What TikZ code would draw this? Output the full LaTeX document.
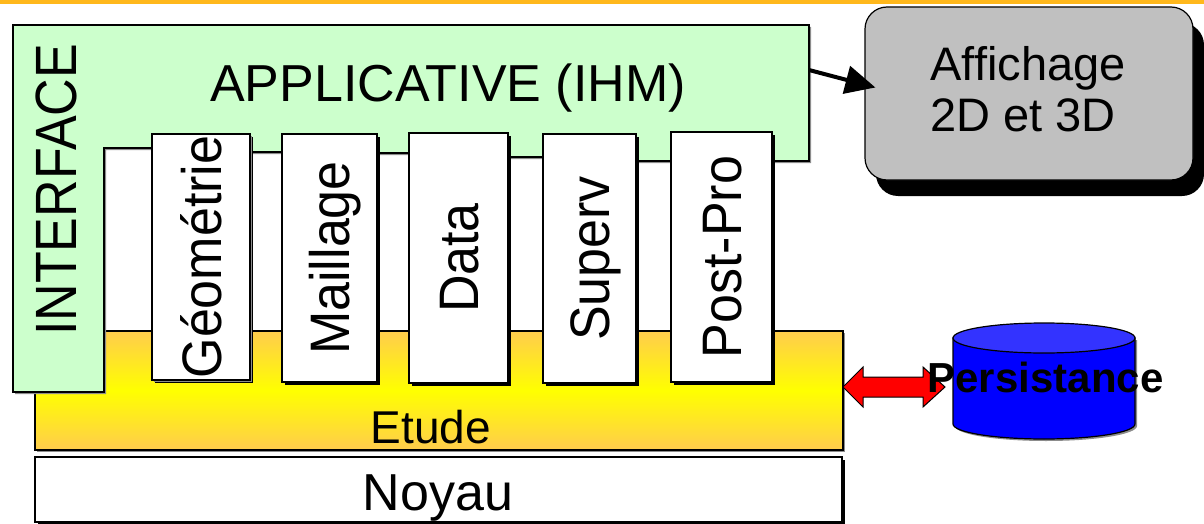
\documentclass[tikz,border=0pt]{standalone}
\usepackage{fontspec}
\setmainfont{Liberation Sans}
\usepackage{graphicx}
\usetikzlibrary{arrows.meta,shadows,calc}

\definecolor{barorange}{RGB}{255,184,28}
\definecolor{ihmgreen}{RGB}{204,255,204}
\definecolor{etudeorange}{RGB}{255,204,77}
\definecolor{etudeyellow}{RGB}{255,255,0}
\definecolor{affgray}{RGB}{192,192,192}
\definecolor{cylblue}{RGB}{0,0,255}
\definecolor{cyltop}{RGB}{51,51,255}

\tikzset{
  bigtext/.style={font=\fontsize{52}{60}\selectfont, inner sep=0pt},
  modbox/.style={draw=black, line width=1.4pt, fill=white, inner sep=0pt,
    drop shadow={shadow xshift=3pt, shadow yshift=-3pt, fill=black, opacity=1}},
  modtext/.style={rotate=90, inner sep=0pt, text height=40pt, text depth=0pt,
    font=\fontsize{52}{60}\selectfont},
  layer/.style={draw=black, line width=1.2pt, inner sep=0pt},
}

\newcommand{\tallword}[2]{\scalebox{1}[#1]{#2}}

\begin{document}
\begin{tikzpicture}[x=1pt,y=-1pt]
\useasboundingbox (0,0) rectangle (1204,524);

% top rule
\fill[barorange] (0,0) rectangle (1204,4.5);

% study layer
\node[layer, minimum width=808pt, minimum height=119pt,
      top color=etudeorange, bottom color=etudeorange, middle color=etudeyellow,
      drop shadow={shadow xshift=2pt, shadow yshift=-2pt, fill=black!45, opacity=1}]
  (etude) at (439,390.5) {};
\node[font=\fontsize{46}{54}\selectfont, inner sep=0pt, anchor=base] (etudetext) at (431,443) {Etude};

% kernel layer
\node[layer, fill=white, minimum width=807pt, minimum height=65pt,
      drop shadow={shadow xshift=3pt, shadow yshift=-3pt, fill=black, opacity=1}]
  (noyau) at (438.5,489.5) {};
\node[bigtext, anchor=base] (noyautext) at (438,510) {Noyau};

% application / interface layer
\draw[line width=1.2pt, fill=ihmgreen,
      drop shadow={shadow xshift=2pt, shadow yshift=-2pt, fill=black!45, opacity=1}]
  (13,25) -- (809,25) -- (809,161) -- (590,161) -- (590,157) -- (460,157)
  -- (460,153) -- (330,153) -- (330,152) -- (200,152) -- (200,148)
  -- (104,148) -- (104,392) -- (13,392) -- cycle;
\coordinate (ihmout) at (809,70);

\node[bigtext, anchor=base] (ihm) at (448,102) {APPLICATIVE (IHM)};
\node[modtext, text height=41.5pt] (interface) at (56,190) {\tallword{1.12}{INTERFACE}};

% modules
\node[modbox, minimum width=98pt, minimum height=246pt,
      drop shadow={shadow xshift=2pt, shadow yshift=-2pt, fill=black!45, opacity=1}]
  (geo) at (201,257) {};
\node[modbox, minimum width=95pt, minimum height=248pt] (mail) at (329.5,258) {};
\node[modbox, minimum width=99pt, minimum height=250pt] (data) at (458.5,258) {};
\node[modbox, minimum width=93pt, minimum height=249pt] (superv) at (589.5,258.5) {};
\node[modbox, minimum width=101pt, minimum height=250pt] (post) at (721.5,257) {};

\node[modtext] at (geo.center) {\tallword{1.07}{Géométrie}};
\node[modtext] at (mail.center) {\tallword{1.07}{Maillage}};
\node[modtext] at (data.center) {\tallword{1.07}{Data}};
\node[modtext] at (superv.center) {\tallword{1.07}{Superv}};
\node[modtext] at (post.center) {\tallword{1.07}{Post-Pro}};

% display box
\node[draw=black, line width=1.2pt, fill=affgray, rounded corners=22pt,
      minimum width=328pt, minimum height=173pt, inner sep=0pt,
      drop shadow={shadow xshift=11pt, shadow yshift=-16pt, fill=black, opacity=1}]
  (aff) at (1029,93.5) {};
\node[font=\fontsize{47}{51}\selectfont, align=left, inner sep=0pt] (afftext)
  at (1028,89) {Affichage\\2D et 3D};
\draw[line width=4pt, -{Triangle[length=30pt,width=28pt]}]
  (ihmout) -- ($(aff.west)+(11,-6)$);

% persistence store
\fill[black!45] (955,340) -- (955,426) arc[start angle=180, end angle=0, x radius=91, y radius=15] -- (1137,340) -- cycle;
\draw[line width=1.2pt, fill=cylblue]
  (953,338) -- (953,424) arc[start angle=180, end angle=0, x radius=91, y radius=15]
  -- (1135,338) -- cycle;
\draw[line width=1.2pt, fill=cyltop] (1044,338) ellipse [x radius=91, y radius=15];

% exchange arrow between study and persistence
\coordinate (xl) at (843,387);
\draw[line width=1pt, fill=red]
  (xl) -- ++(20,-20) -- ++(0,10) -- ++(60,0) -- ++(0,-10) -- ++(22,20)
  -- ++(-22,20) -- ++(0,-10) -- ++(-60,0) -- ++(0,10) -- cycle;

\node[font=\fontsize{42}{50}\selectfont\bfseries, inner sep=0pt, anchor=base]
  (persist) at (1045.5,392) {Persistance};
\end{tikzpicture}
\end{document}
